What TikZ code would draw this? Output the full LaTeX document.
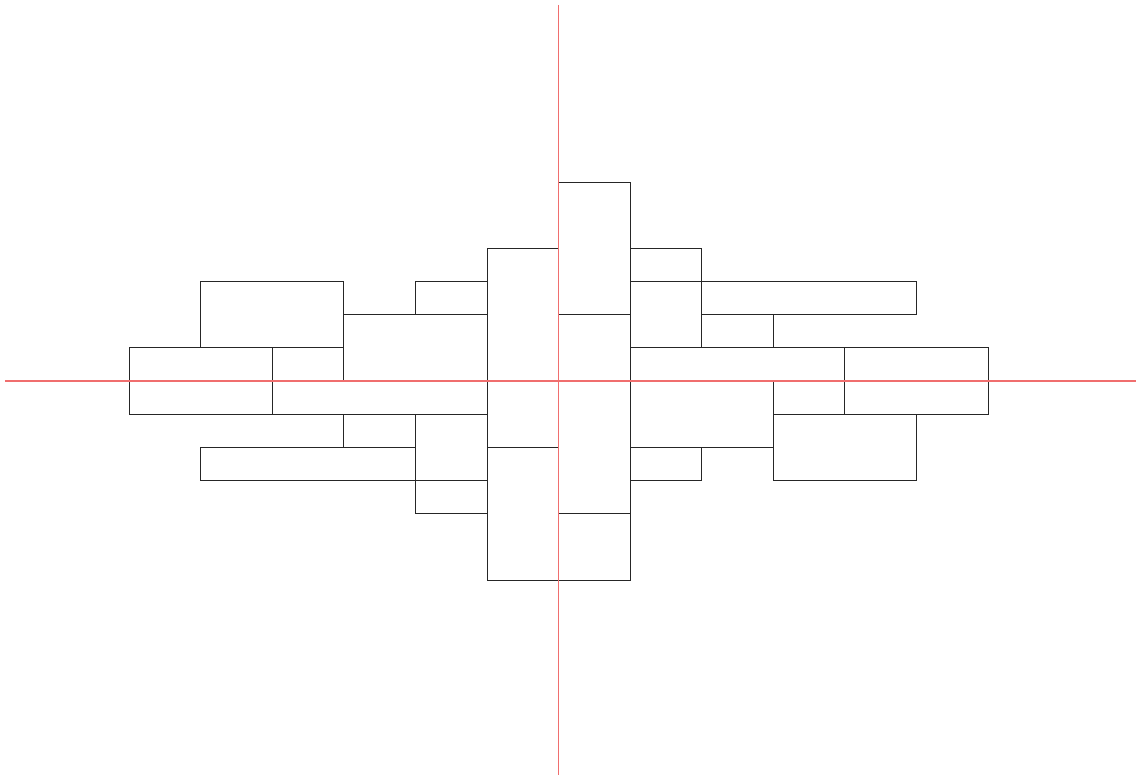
\documentclass[tikz,border=0pt]{standalone}
\begin{document}
\begin{tikzpicture}[x=1.7895cm, y=0.82925cm,
  blk/.style={draw=black!85, line width=0.55pt},
  axis/.style={draw={rgb,255:red,240;green,110;blue,110}, line width=0.9pt}]
\useasboundingbox (-7.8025,-11.969) rectangle (8.1238,11.486);
\foreach \a/\b/\c/\d in {
  -5/1/-3/3, -6/-1/-4/1, -4/0/-3/1, -3/0/-1/2, -2/2/-1/3, -4/-1/-1/0,
  -3/-2/-2/-1, -5/-3/-2/-2, -2/-3/-1/-1, -2/-4/-1/-3,
  -1/-2/0/4, -1/-6/0/-2,
  0/2/1/6, 0/-4/1/2, 0/-6/1/-4,
  1/3/2/4, 1/1/2/3, 2/2/5/3, 2/1/3/2, 1/0/4/1, 4/-1/6/1, 3/-1/4/0,
  1/-2/3/0, 1/-3/2/-2, 3/-3/5/-1}
  \draw[blk] (\a,\b) rectangle (\c,\d);
\draw[axis] (0,11.336) -- (0,-11.878);
\draw[axis] (-7.733,0) -- (8.068,0);
\end{tikzpicture}
\end{document}
